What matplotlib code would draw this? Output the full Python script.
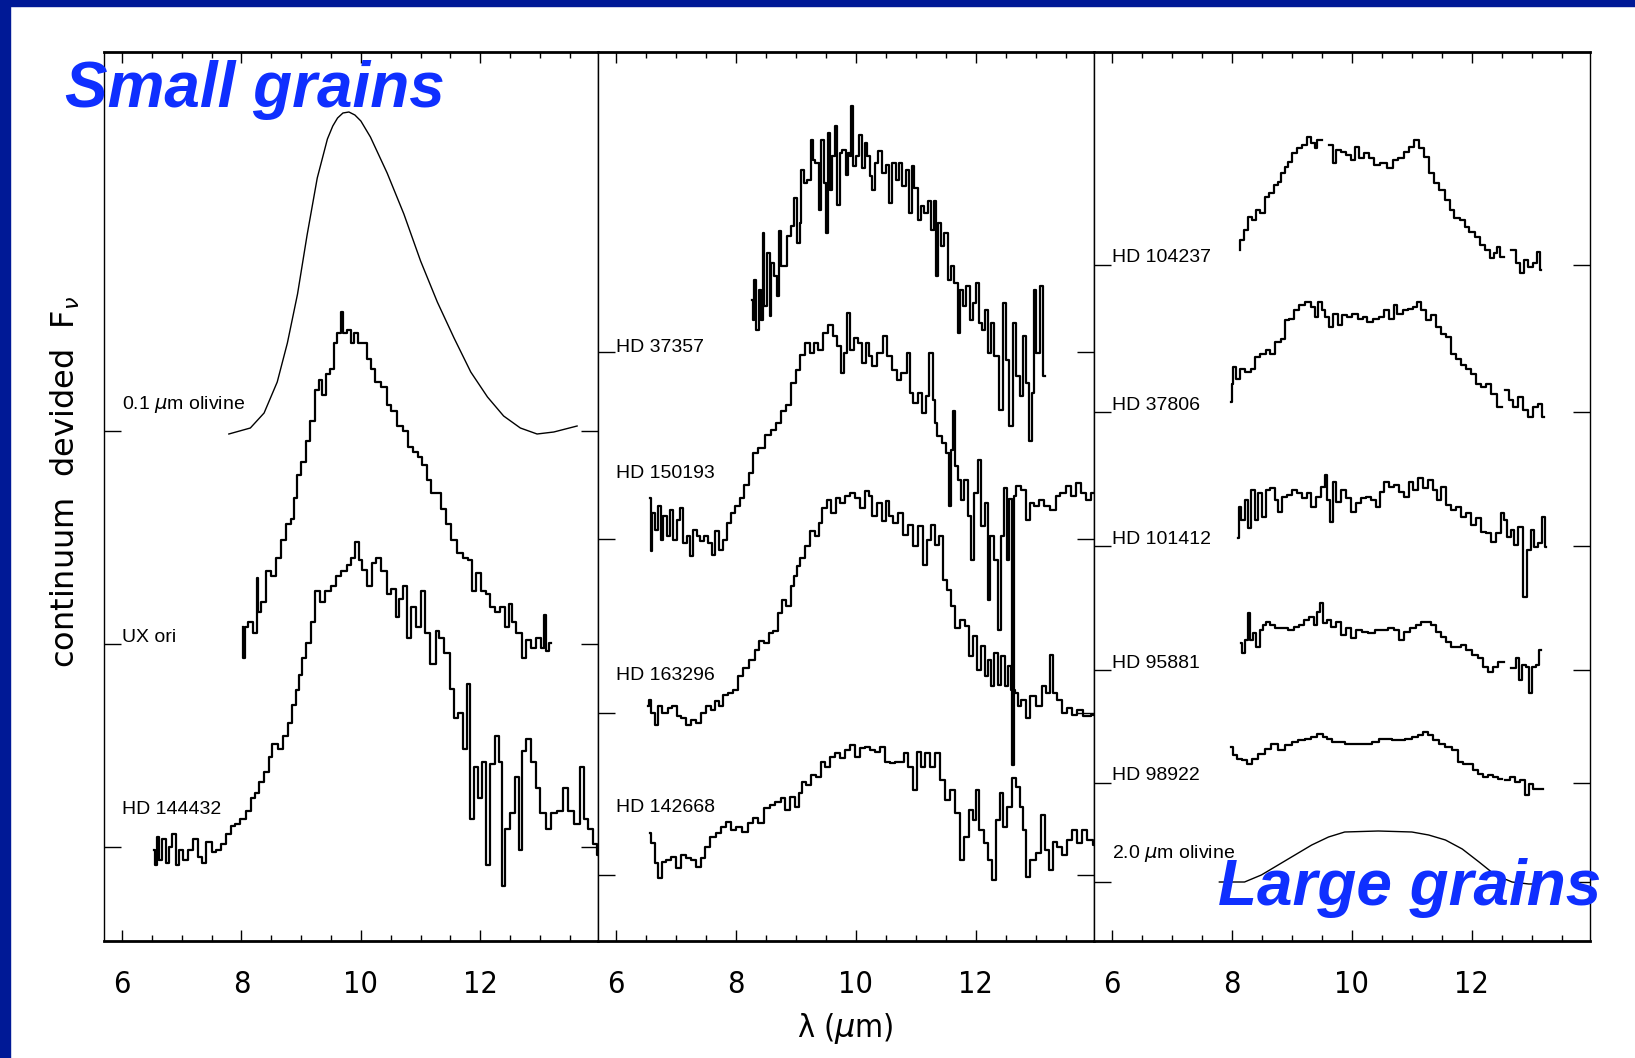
import numpy as np
import matplotlib
matplotlib.use("Agg")
import matplotlib.pyplot as plt
from matplotlib.patches import Rectangle
from matplotlib.ticker import MultipleLocator

# wavelength (micron), continuum-subtracted flux (arbitrary units)
ol01 = [(7.79, -0.03), (8.15, 0.03), (8.38, 0.18), (8.60, 0.49), (8.77, 0.88), (8.94, 1.37),
        (9.10, 1.96), (9.27, 2.53), (9.44, 2.92), (9.53, 3.05), (9.61, 3.13), (9.70, 3.18),
        (9.80, 3.19), (9.90, 3.16), (10.0, 3.10), (10.16, 2.94), (10.44, 2.58), (10.72, 2.17),
        (11.0, 1.70), (11.28, 1.29), (11.56, 0.93), (11.84, 0.59), (12.12, 0.34), (12.39, 0.15),
        (12.67, 0.03), (12.95, -0.03), (13.23, -0.01), (13.62, 0.05)]

uxori = [(8.02, 0.17), (8.04, -0.14), (8.07, 0.17), (8.15, 0.22), (8.24, 0.11), (8.27, 0.66),
         (8.29, 0.32), (8.38, 0.42), (8.43, 0.73), (8.55, 0.68), (8.60, 0.86), (8.71, 1.04),
         (8.80, 1.20), (8.85, 1.25), (8.91, 1.46), (8.96, 1.69), (9.05, 1.82), (9.10, 2.03),
         (9.19, 2.23), (9.27, 2.54), (9.33, 2.64), (9.38, 2.49), (9.44, 2.70), (9.52, 2.75),
         (9.58, 3.01), (9.63, 3.11), (9.69, 3.32), (9.72, 3.11), (9.80, 3.14), (9.86, 3.01),
         (9.91, 3.11), (10.0, 3.01), (10.08, 3.01), (10.11, 2.85), (10.22, 2.75), (10.27, 2.62),
         (10.39, 2.57), (10.47, 2.39), (10.55, 2.33), (10.67, 2.18), (10.75, 2.13), (10.83, 1.97),
         (10.92, 1.92), (11.0, 1.87), (11.06, 1.79), (11.14, 1.64), (11.22, 1.51), (11.31, 1.51),
         (11.39, 1.35), (11.45, 1.20), (11.56, 1.04), (11.67, 0.91), (11.75, 0.86), (11.84, 0.84),
         (11.89, 0.53), (11.95, 0.71), (12.06, 0.53), (12.12, 0.50), (12.20, 0.37), (12.28, 0.32),
         (12.39, 0.37), (12.45, 0.17), (12.51, 0.40), (12.56, 0.22), (12.65, 0.11), (12.73, -0.14),
         (12.79, 0.04), (12.90, -0.04), (12.98, 0.06), (13.04, -0.04), (13.09, 0.29),
         (13.12, -0.07), (13.18, 0.01)]

hd144432 = [(6.54, -0.03), (6.57, -0.18), (6.59, 0.10), (6.65, -0.13), (6.70, 0.08), (6.76, -0.16),
            (6.82, 0.0), (6.87, 0.13), (6.93, -0.18), (6.98, -0.03), (7.07, -0.13), (7.15, -0.03),
            (7.23, 0.08), (7.32, -0.10), (7.37, -0.16), (7.46, 0.05), (7.54, -0.05), (7.62, -0.03),
            (7.71, 0.03), (7.79, 0.13), (7.85, 0.21), (7.93, 0.23), (8.04, 0.28), (8.13, 0.36),
            (8.18, 0.49), (8.27, 0.54), (8.32, 0.65), (8.43, 0.75), (8.49, 0.90), (8.55, 1.03),
            (8.66, 0.98), (8.74, 1.11), (8.82, 1.24), (8.88, 1.42), (8.94, 1.57), (8.99, 1.72),
            (9.05, 1.89), (9.13, 2.04), (9.19, 2.25), (9.27, 2.56), (9.35, 2.45), (9.44, 2.56),
            (9.55, 2.61), (9.63, 2.71), (9.72, 2.76), (9.80, 2.82), (9.88, 2.89), (9.94, 3.05),
            (10.0, 2.87), (10.05, 2.77), (10.14, 2.61), (10.22, 2.84), (10.30, 2.89), (10.39, 2.76),
            (10.47, 2.53), (10.55, 2.58), (10.61, 2.30), (10.67, 2.48), (10.75, 2.61), (10.80, 2.09),
            (10.89, 2.40), (10.97, 2.20), (11.03, 2.56), (11.11, 2.14), (11.22, 1.83), (11.28, 2.16),
            (11.33, 2.09), (11.45, 1.94), (11.53, 1.58), (11.59, 1.29), (11.67, 1.34), (11.75, 0.98),
            (11.81, 1.63), (11.86, 0.28), (11.92, 0.80), (12.0, 0.49), (12.06, 0.85), (12.14, -0.18),
            (12.20, 0.83), (12.28, 1.11), (12.34, 0.85), (12.39, -0.39), (12.45, 0.18), (12.53, 0.34),
            (12.62, 0.70), (12.67, -0.03), (12.73, 0.96), (12.81, 1.08), (12.90, 0.85), (12.95, 0.59),
            (13.04, 0.34), (13.15, 0.18), (13.23, 0.34), (13.34, 0.36), (13.43, 0.59), (13.51, 0.36),
            (13.62, 0.23), (13.71, 0.80), (13.76, 0.28), (13.85, 0.18), (13.93, 0.03), (13.97, -0.08)]

hd37357 = [(8.27, 0.52), (8.29, 0.32), (8.32, 0.72), (8.35, 0.22), (8.41, 0.62), (8.43, 0.32),
           (8.46, 1.19), (8.49, 0.46), (8.55, 0.99), (8.57, 0.36), (8.60, 0.89), (8.66, 0.76),
           (8.71, 0.56), (8.74, 1.21), (8.77, 0.86), (8.82, 0.86), (8.88, 1.16), (8.94, 1.26),
           (8.99, 1.54), (9.05, 1.09), (9.08, 1.29), (9.10, 1.82), (9.16, 1.69), (9.22, 1.72),
           (9.27, 2.12), (9.30, 1.92), (9.35, 1.89), (9.41, 1.42), (9.44, 2.12), (9.49, 1.69),
           (9.52, 1.19), (9.55, 2.19), (9.58, 1.62), (9.63, 1.96), (9.66, 2.26), (9.72, 1.47),
           (9.75, 1.99), (9.80, 2.02), (9.86, 1.77), (9.88, 1.99), (9.91, 1.96), (9.94, 2.46),
           (9.97, 1.86), (10.02, 1.96), (10.08, 2.17), (10.14, 1.84), (10.16, 2.09), (10.22, 1.96),
           (10.25, 1.76), (10.30, 1.62), (10.33, 1.89), (10.41, 2.01), (10.47, 1.79), (10.53, 1.87),
           (10.58, 1.49), (10.64, 1.89), (10.69, 1.72), (10.75, 1.89), (10.80, 1.66), (10.86, 1.82),
           (10.92, 1.39), (10.94, 1.86), (11.0, 1.64), (11.06, 1.32), (11.11, 1.46), (11.17, 1.39),
           (11.22, 1.51), (11.28, 1.22), (11.31, 1.51), (11.36, 0.76), (11.39, 1.29), (11.45, 1.06),
           (11.50, 1.19), (11.56, 0.72), (11.61, 0.86), (11.67, 0.69), (11.73, 0.19), (11.75, 0.62),
           (11.81, 0.46), (11.87, 0.66), (11.92, 0.32), (11.98, 0.49), (12.03, 0.69), (12.09, 0.29),
           (12.12, 0.22), (12.17, 0.42), (12.23, -0.01), (12.28, 0.29), (12.34, -0.04),
           (12.42, -0.58), (12.48, 0.49), (12.53, -0.08), (12.59, -0.74), (12.65, 0.29),
           (12.70, -0.24), (12.76, -0.44), (12.81, 0.16), (12.87, -0.31), (12.91, -0.89),
           (12.95, -0.41), (12.98, 0.62), (13.04, -0.01), (13.09, 0.66), (13.15, -0.24)]

hd150193 = [(6.57, 0.41), (6.59, -0.12), (6.62, 0.26), (6.68, 0.09), (6.73, 0.33), (6.76, -0.01),
            (6.82, 0.23), (6.87, 0.03), (6.93, 0.29), (6.98, -0.01), (7.04, 0.19), (7.09, 0.31),
            (7.15, -0.04), (7.21, 0.03), (7.26, -0.17), (7.32, 0.09), (7.37, 0.03), (7.43, -0.02),
            (7.49, 0.03), (7.57, -0.04), (7.62, -0.16), (7.68, 0.08), (7.74, -0.11), (7.82, -0.01),
            (7.88, 0.16), (7.96, 0.26), (8.02, 0.33), (8.10, 0.41), (8.18, 0.54), (8.24, 0.66),
            (8.32, 0.86), (8.43, 0.91), (8.55, 1.04), (8.63, 1.09), (8.71, 1.16), (8.80, 1.28),
            (8.88, 1.34), (8.96, 1.56), (9.05, 1.69), (9.10, 1.84), (9.19, 1.96), (9.27, 1.86),
            (9.33, 1.96), (9.41, 1.89), (9.49, 2.06), (9.58, 2.14), (9.66, 2.03), (9.72, 1.93),
            (9.77, 1.66), (9.83, 1.86), (9.88, 2.26), (9.94, 1.89), (10.0, 2.01), (10.08, 1.96),
            (10.14, 1.76), (10.19, 1.96), (10.25, 1.83), (10.30, 1.73), (10.39, 1.86), (10.50, 2.03),
            (10.55, 1.83), (10.64, 1.69), (10.72, 1.59), (10.80, 1.66), (10.89, 1.86), (10.92, 1.46),
            (11.0, 1.36), (11.08, 1.46), (11.14, 1.26), (11.20, 1.43), (11.25, 1.86), (11.31, 1.39),
            (11.33, 1.16), (11.39, 1.03), (11.47, 0.96), (11.53, 0.86), (11.56, 0.33), (11.61, 0.89),
            (11.64, 1.28), (11.67, 0.73), (11.72, 0.59), (11.78, 0.39), (11.84, 0.59), (11.89, 0.23),
            (11.95, -0.21), (12.0, 0.46), (12.06, 0.79), (12.12, 0.13), (12.17, 0.36),
            (12.22, -0.61), (12.25, 0.03), (12.34, -0.21), (12.39, -0.91), (12.45, 0.03),
            (12.50, 0.51), (12.53, -0.21), (12.59, 0.40), (12.62, -2.26), (12.65, 0.43),
            (12.70, 0.53), (12.79, 0.49), (12.87, 0.19), (12.92, 0.36), (13.01, 0.33), (13.09, 0.39),
            (13.18, 0.33), (13.29, 0.29), (13.37, 0.43), (13.45, 0.46), (13.54, 0.53), (13.62, 0.43),
            (13.71, 0.56), (13.79, 0.46), (13.87, 0.39), (13.96, 0.46), (14.0, 0.49)]

hd163296 = [(6.54, 0.07), (6.56, 0.13), (6.62, 0.0), (6.68, -0.12), (6.73, 0.07), (6.82, 0.0),
            (6.90, 0.05), (6.98, 0.07), (7.04, -0.03), (7.12, -0.05), (7.21, -0.12), (7.29, -0.07),
            (7.37, -0.10), (7.46, 0.0), (7.54, 0.07), (7.62, 0.03), (7.68, 0.12), (7.74, 0.07),
            (7.82, 0.18), (7.90, 0.20), (7.99, 0.23), (8.07, 0.37), (8.15, 0.45), (8.27, 0.53),
            (8.35, 0.63), (8.43, 0.72), (8.52, 0.70), (8.57, 0.80), (8.66, 0.82), (8.74, 1.0),
            (8.80, 1.13), (8.88, 1.07), (8.94, 1.27), (8.99, 1.37), (9.05, 1.47), (9.10, 1.55),
            (9.19, 1.67), (9.27, 1.82), (9.35, 1.77), (9.41, 1.90), (9.47, 2.05), (9.55, 2.13),
            (9.63, 2.0), (9.69, 2.15), (9.77, 2.10), (9.86, 2.17), (9.94, 2.20), (10.02, 2.15),
            (10.11, 2.05), (10.19, 2.22), (10.25, 2.17), (10.30, 1.97), (10.39, 2.10), (10.47, 1.92),
            (10.53, 2.12), (10.58, 1.97), (10.67, 1.90), (10.75, 2.0), (10.83, 1.78), (10.92, 1.88),
            (11.0, 1.67), (11.08, 1.87), (11.16, 1.48), (11.22, 1.73), (11.28, 1.88), (11.36, 1.68),
            (11.42, 1.77), (11.47, 1.33), (11.56, 1.23), (11.61, 1.07), (11.70, 0.85), (11.78, 0.93),
            (11.86, 0.87), (11.92, 0.57), (11.98, 0.77), (12.06, 0.43), (12.12, 0.67), (12.17, 0.37),
            (12.23, 0.53), (12.28, 0.27), (12.34, 0.60), (12.39, 0.28), (12.45, 0.57), (12.51, 0.27),
            (12.56, 0.47), (12.62, 0.23), (12.67, 0.20), (12.73, 0.07), (12.79, 0.13),
            (12.87, -0.05), (12.95, 0.17), (13.04, 0.07), (13.15, 0.27), (13.20, 0.20),
            (13.26, 0.58), (13.32, 0.20), (13.40, 0.13), (13.48, 0.0), (13.57, 0.05),
            (13.65, -0.02), (13.73, 0.03), (13.85, -0.03), (14.0, -0.02)]

hd142668 = [(6.56, 0.42), (6.62, 0.32), (6.68, 0.12), (6.73, -0.03), (6.79, 0.13), (6.87, 0.15),
            (6.96, 0.18), (7.04, 0.07), (7.12, 0.20), (7.21, 0.17), (7.29, 0.15), (7.37, 0.08),
            (7.46, 0.17), (7.51, 0.28), (7.62, 0.38), (7.71, 0.42), (7.79, 0.48), (7.88, 0.53),
            (7.96, 0.45), (8.04, 0.48), (8.15, 0.43), (8.24, 0.52), (8.32, 0.57), (8.43, 0.52),
            (8.52, 0.67), (8.60, 0.70), (8.71, 0.73), (8.80, 0.77), (8.85, 0.65), (8.94, 0.78),
            (9.02, 0.68), (9.08, 0.82), (9.13, 0.93), (9.21, 0.90), (9.30, 1.0), (9.38, 0.98),
            (9.44, 1.13), (9.52, 1.08), (9.61, 1.18), (9.69, 1.22), (9.77, 1.17), (9.86, 1.25),
            (9.94, 1.30), (10.02, 1.18), (10.11, 1.27), (10.19, 1.28), (10.27, 1.25), (10.36, 1.23),
            (10.44, 1.28), (10.53, 1.13), (10.61, 1.12), (10.69, 1.13), (10.78, 1.13), (10.83, 1.22),
            (10.92, 1.08), (10.99, 0.85), (11.06, 1.23), (11.11, 1.08), (11.20, 1.22), (11.28, 1.08),
            (11.36, 1.22), (11.45, 0.95), (11.53, 0.75), (11.61, 0.85), (11.70, 0.62), (11.78, 0.15),
            (11.84, 0.38), (11.92, 0.65), (11.98, 0.55), (12.03, 0.85), (12.09, 0.45), (12.17, 0.32),
            (12.23, 0.15), (12.31, -0.05), (12.37, 0.55), (12.42, 0.82), (12.48, 0.48), (12.56, 0.68),
            (12.65, 0.97), (12.70, 0.88), (12.76, 0.68), (12.81, 0.45), (12.87, -0.02), (12.95, 0.15),
            (13.04, 0.22), (13.12, 0.60), (13.18, 0.25), (13.26, 0.05), (13.32, 0.33), (13.40, 0.28),
            (13.48, 0.20), (13.57, 0.35), (13.65, 0.45), (13.73, 0.32), (13.82, 0.45), (13.90, 0.35),
            (14.0, 0.30)]

hd104237 = [(8.13, 0.15), (8.15, 0.25), (8.24, 0.35), (8.29, 0.48), (8.38, 0.45), (8.43, 0.55),
            (8.52, 0.52), (8.57, 0.68), (8.66, 0.72), (8.74, 0.80), (8.80, 0.83), (8.85, 0.92),
            (8.91, 0.98), (8.96, 1.03), (9.05, 1.12), (9.13, 1.17), (9.21, 1.20), (9.30, 1.28),
            (9.35, 1.22), (9.41, 1.17), (9.44, 1.25), (9.55, np.nan), (9.67, 1.20), (9.71, 1.02),
            (9.77, 1.15), (9.86, 1.13), (9.94, 1.10), (10.02, 1.05), (10.08, 1.18), (10.16, 1.07),
            (10.25, 1.12), (10.33, 1.07), (10.41, 1.0), (10.53, 1.02), (10.64, 0.97), (10.72, 1.05),
            (10.83, 1.07), (10.92, 1.13), (11.0, 1.18), (11.08, 1.25), (11.17, 1.17), (11.25, 1.08),
            (11.33, 0.92), (11.42, 0.82), (11.50, 0.75), (11.59, 0.65), (11.67, 0.55), (11.75, 0.47),
            (11.84, 0.45), (11.92, 0.38), (12.0, 0.33), (12.09, 0.28), (12.17, 0.20), (12.26, 0.15),
            (12.34, 0.07), (12.39, 0.12), (12.45, 0.18), (12.48, 0.08), (12.60, np.nan),
            (12.70, 0.15), (12.76, 0.02), (12.83, -0.08), (12.90, 0.05), (12.98, -0.02),
            (13.06, 0.02), (13.11, 0.13), (13.15, -0.05)]

hd37806 = [(7.99, 0.10), (8.0, 0.28), (8.04, 0.45), (8.10, 0.33), (8.18, 0.43), (8.27, 0.40),
           (8.35, 0.43), (8.43, 0.55), (8.52, 0.58), (8.60, 0.62), (8.68, 0.58), (8.77, 0.70),
           (8.85, 0.73), (8.92, 0.92), (8.99, 0.93), (9.08, 1.02), (9.16, 1.07), (9.27, 1.10),
           (9.35, 1.05), (9.41, 0.95), (9.47, 1.10), (9.52, 1.02), (9.58, 0.95), (9.65, 0.85),
           (9.72, 0.98), (9.80, 0.87), (9.88, 0.97), (9.97, 0.95), (10.05, 0.98), (10.14, 0.93),
           (10.22, 0.95), (10.30, 0.90), (10.39, 0.93), (10.50, 0.95), (10.58, 1.02), (10.67, 0.93),
           (10.72, 1.07), (10.80, 0.98), (10.89, 1.02), (10.97, 1.03), (11.06, 1.05), (11.11, 1.10),
           (11.20, 1.02), (11.28, 0.92), (11.36, 0.97), (11.45, 0.85), (11.53, 0.78), (11.61, 0.75),
           (11.70, 0.58), (11.78, 0.53), (11.86, 0.47), (11.95, 0.43), (12.03, 0.38), (12.12, 0.28),
           (12.20, 0.25), (12.28, 0.28), (12.37, 0.18), (12.46, 0.05), (12.53, np.nan),
           (12.59, 0.22), (12.65, 0.12), (12.73, 0.05), (12.81, 0.15), (12.90, 0.02),
           (12.98, -0.05), (13.06, 0.05), (13.15, 0.08), (13.20, -0.05)]

hd101412 = [(8.10, 0.08), (8.13, 0.39), (8.18, 0.26), (8.24, 0.46), (8.29, 0.18), (8.35, 0.56),
            (8.41, 0.26), (8.46, 0.53), (8.55, 0.29), (8.60, 0.56), (8.68, 0.58), (8.74, 0.46),
            (8.80, 0.34), (8.88, 0.49), (8.96, 0.51), (9.05, 0.56), (9.13, 0.53), (9.21, 0.48),
            (9.30, 0.53), (9.35, 0.39), (9.44, 0.49), (9.52, 0.59), (9.57, 0.71), (9.61, 0.46),
            (9.66, 0.24), (9.71, 0.64), (9.77, 0.44), (9.86, 0.56), (9.94, 0.48), (10.02, 0.34),
            (10.11, 0.43), (10.19, 0.48), (10.27, 0.49), (10.36, 0.46), (10.44, 0.39), (10.50, 0.54),
            (10.58, 0.64), (10.67, 0.59), (10.75, 0.61), (10.83, 0.54), (10.92, 0.49), (10.97, 0.64),
            (11.06, 0.56), (11.14, 0.68), (11.22, 0.58), (11.31, 0.66), (11.39, 0.56), (11.45, 0.46),
            (11.53, 0.59), (11.61, 0.41), (11.70, 0.36), (11.78, 0.39), (11.86, 0.29), (11.95, 0.33),
            (12.03, 0.21), (12.12, 0.28), (12.20, 0.14), (12.28, 0.13), (12.37, 0.04), (12.45, 0.13),
            (12.51, 0.33), (12.56, 0.26), (12.62, 0.09), (12.67, 0.16), (12.73, 0.01), (12.81, 0.19),
            (12.89, -0.51), (12.95, -0.04), (13.01, 0.16), (13.06, -0.01), (13.15, 0.03),
            (13.20, 0.29), (13.23, -0.01)]

hd95881 = [(8.15, 0.27), (8.18, 0.17), (8.24, 0.30), (8.28, 0.57), (8.32, 0.30), (8.38, 0.37),
           (8.43, 0.23), (8.49, 0.40), (8.55, 0.45), (8.60, 0.48), (8.68, 0.45), (8.77, 0.42),
           (8.88, 0.42), (8.99, 0.40), (9.08, 0.43), (9.16, 0.45), (9.24, 0.50), (9.33, 0.53),
           (9.39, 0.45), (9.44, 0.58), (9.49, 0.67), (9.55, 0.47), (9.61, 0.50), (9.69, 0.43),
           (9.77, 0.48), (9.86, 0.35), (9.94, 0.42), (10.02, 0.32), (10.11, 0.40), (10.22, 0.38),
           (10.33, 0.37), (10.44, 0.40), (10.55, 0.40), (10.67, 0.42), (10.75, 0.40), (10.83, 0.30),
           (10.92, 0.38), (11.03, 0.42), (11.11, 0.45), (11.20, 0.48), (11.28, 0.48), (11.36, 0.45),
           (11.45, 0.38), (11.53, 0.33), (11.61, 0.28), (11.70, 0.23), (11.78, 0.23), (11.86, 0.25),
           (11.95, 0.20), (12.06, 0.15), (12.14, 0.12), (12.23, 0.03), (12.31, -0.02), (12.39, 0.03),
           (12.48, 0.08), (12.60, np.nan), (12.72, 0.02), (12.76, 0.12), (12.81, -0.10),
           (12.87, 0.05), (12.92, 0.03), (12.98, -0.23), (13.04, 0.03), (13.09, 0.05),
           (13.15, 0.20)]

hd98922 = [(7.99, 0.36), (8.04, 0.28), (8.13, 0.24), (8.21, 0.23), (8.29, 0.19), (8.38, 0.24),
           (8.49, 0.29), (8.60, 0.34), (8.71, 0.39), (8.82, 0.33), (8.94, 0.38), (9.05, 0.41),
           (9.16, 0.43), (9.27, 0.44), (9.38, 0.46), (9.47, 0.49), (9.55, 0.46), (9.63, 0.44),
           (9.72, 0.41), (9.83, 0.41), (9.94, 0.39), (10.11, 0.39), (10.27, 0.39), (10.39, 0.41),
           (10.50, 0.44), (10.61, 0.44), (10.72, 0.43), (10.83, 0.43), (10.94, 0.44), (11.06, 0.46),
           (11.14, 0.48), (11.22, 0.51), (11.31, 0.48), (11.39, 0.43), (11.50, 0.39), (11.61, 0.36),
           (11.73, 0.33), (11.81, 0.21), (11.89, 0.19), (11.98, 0.19), (12.06, 0.13), (12.14, 0.09),
           (12.23, 0.06), (12.31, 0.08), (12.39, 0.06), (12.48, 0.04), (12.53, np.nan),
           (12.59, 0.03), (12.67, 0.06), (12.76, 0.01), (12.84, 0.03), (12.92, -0.12),
           (12.98, -0.01), (13.06, -0.06), (13.18, -0.06)]

ol20 = [(7.79, 0.0), (8.21, 0.0), (8.49, 0.07), (8.77, 0.17), (9.05, 0.27), (9.33, 0.37),
        (9.61, 0.45), (9.88, 0.50), (10.44, 0.51), (11.0, 0.50), (11.28, 0.47), (11.56, 0.42),
        (11.84, 0.33), (12.12, 0.20), (12.39, 0.07), (12.67, 0.0), (12.95, -0.02), (13.12, -0.02)]

# panel contents: (name, data, baseline, label height, smooth model?)
panel1 = [("0.1 $\\mu$m olivine", ol01, 5.10, 5.37, True),
          ("UX ori", uxori, 2.97, 3.03, False),
          ("HD 144432", hd144432, 0.94, 1.31, False)]
panel2 = [("HD 37357", hd37357, 5.89, 5.94, False),
          ("HD 150193", hd150193, 4.02, 4.68, False),
          ("HD 163296", hd163296, 2.28, 2.66, False),
          ("HD 142668", hd142668, 0.66, 1.33, False)]
panel3 = [("HD 104237", hd104237, 6.76, 6.84, False),
          ("HD 37806", hd37806, 5.29, 5.36, False),
          ("HD 101412", hd101412, 3.95, 4.02, False),
          ("HD 95881", hd95881, 2.71, 2.78, False),
          ("HD 98922", hd98922, 1.58, 1.66, False),
          ("2.0 $\\mu$m olivine", ol20, 0.59, 0.88, True)]

W, H = 1635, 1058
fig = plt.figure(figsize=(W / 100, H / 100), dpi=100)
fig.patch.set_facecolor("white")

navy = "#001996"
fig.patches.append(Rectangle((0, 1 - 6 / H), 1, 6 / H, transform=fig.transFigure,
                             color=navy, zorder=10))
fig.patches.append(Rectangle((0, 0), 10 / W, 1, transform=fig.transFigure,
                             color=navy, zorder=10))

lefts = [104, 598, 1094]
widths = [494, 496, 496]

for left, width, panel in zip(lefts, widths, [panel1, panel2, panel3]):
    ax = fig.add_axes([left / W, 117 / H, width / W, 889 / H])
    ax.set_xlim(5.7, 13.97)
    ax.set_ylim(0, 8.89)
    for name, data, base, ylab, smooth in panel:
        arr = np.array(data, dtype=float)
        if smooth:
            ax.plot(arr[:, 0], arr[:, 1] + base, color="black", lw=1.0)
        else:
            ax.plot(arr[:, 0], arr[:, 1] + base, color="black", lw=1.6,
                    drawstyle="steps-mid")
        ax.text(6.0, ylab, name, fontsize=14, family=["Liberation Sans", "DejaVu Sans"],
                va="center", ha="left")
    ax.set_yticks([p[2] for p in panel])
    ax.set_yticklabels([])
    ax.xaxis.set_major_locator(MultipleLocator(2))
    ax.xaxis.set_minor_locator(MultipleLocator(0.5))
    ax.tick_params(axis="x", which="major", direction="in", top=True, length=8,
                   width=1, pad=21, labelsize=22)
    ax.tick_params(axis="x", which="minor", direction="in", top=True, length=4, width=1)
    ax.tick_params(axis="y", which="major", direction="in", right=True, length=12, width=1)
    for lab in ax.get_xticklabels():
        lab.set_fontstretch("condensed")
        lab.set_fontweight("light")
    for side in ["left", "right"]:
        ax.spines[side].set_linewidth(1.0)
    for side in ["top", "bottom"]:
        ax.spines[side].set_linewidth(2.0)

fig.text(845 / W, 1 - 1029 / H, "λ ($\\mu$m)", fontsize=23, fontstretch="condensed",
         ha="center", va="center")
fig.text(65 / W, 1 - 482 / H, "continuum  devided  F$_\\nu$", fontsize=23,
         rotation=90, ha="center", va="center", color="black")

blue = "#0f2fff"
fig.text(65 / W, 1 - 107 / H, "Small grains", fontsize=46, color=blue,
         family=["Liberation Sans", "DejaVu Sans"], weight="bold", style="italic",
         ha="left", va="baseline")
fig.text(1218 / W, 1 - 905 / H, "Large grains", fontsize=46, color=blue,
         family=["Liberation Sans", "DejaVu Sans"], weight="bold", style="italic",
         ha="left", va="baseline")

fig.savefig("out.png", dpi=100)
